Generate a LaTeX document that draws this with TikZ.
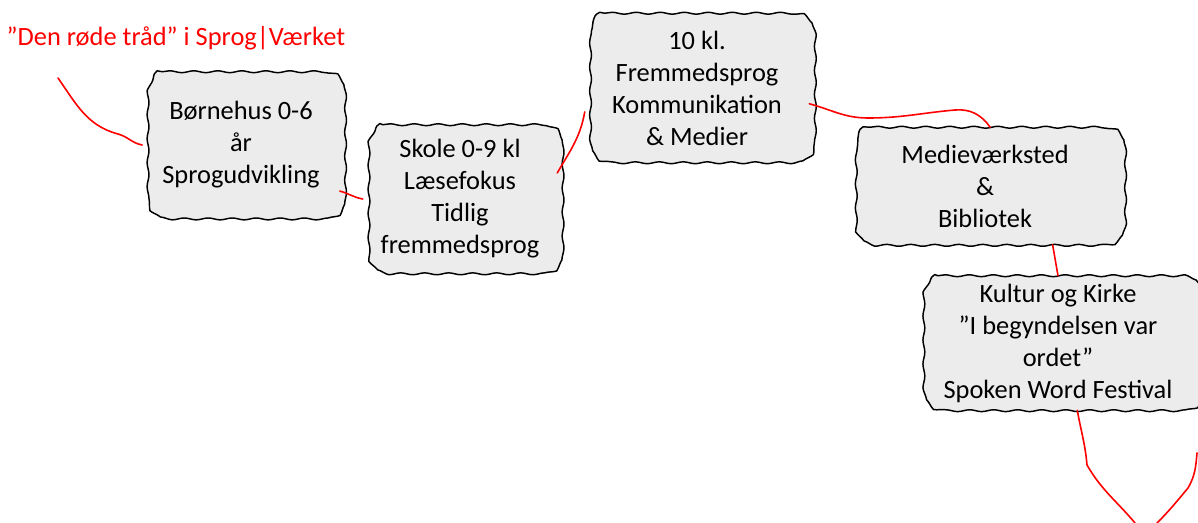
\documentclass[tikz,border=0pt]{standalone}
\usepackage{fontspec}
\setmainfont{Carlito}
\usetikzlibrary{decorations.pathmorphing, backgrounds}
\definecolor{boxgray}{RGB}{236,236,236}

\begin{document}
\begin{tikzpicture}[x=0.75pt, y=-0.75pt,
  box/.style={align=center, inner sep=0pt, font=\fontsize{19.8}{24}\selectfont},
  outline/.style={draw=black, fill=boxgray, line width=1.1pt, line join=round, decorate,
    decoration={snake, amplitude=0.7pt, segment length=18pt}},
  thread/.style={draw=red, line width=1.2pt, line join=round, line cap=round}]
  \useasboundingbox (0,0) rectangle (1198,523);

  \node[text=red, anchor=west, font=\fontsize{19.8}{24}\selectfont] (title) at (2,38) {”Den røde tråd” i Sprog|Værket};

  \node[box, minimum width=147.75pt, minimum height=109.5pt] (b1) at (241,145) {Børnehus 0-6\\år\\Sprogudvikling};
  \node[box, minimum width=145.5pt, minimum height=111pt] (b2) at (460,199) {Skole 0-9 kl\\Læsefokus\\Tidlig\\fremmedsprog};
  \node[box, minimum width=168pt, minimum height=111.75pt] (b3) at (697,88) {10 kl.\\Fremmedsprog\\Kommunikation\\\& Medier};
  \node[box, minimum width=201.75pt, minimum height=87.75pt] (b4) at (985,186) {Medieværksted\\\&\\Bibliotek};
  \node[box, minimum width=210pt, minimum height=100.5pt] (b5) at (1058,343) {Kultur og Kirke\\”I begyndelsen var\\ordet”\\Spoken Word Festival};

  \begin{scope}[on background layer]
  \foreach \n in {b1,b2,b3,b4,b5}
    \draw[outline] ([xshift=15pt]\n.north west) -- ([xshift=-15pt]\n.north east)
      .. controls ([xshift=-6pt]\n.north east) and ([yshift=-6pt]\n.north east) .. ([yshift=-15pt]\n.north east)
      -- ([yshift=15pt]\n.south east)
      .. controls ([yshift=6pt]\n.south east) and ([xshift=-6pt]\n.south east) .. ([xshift=-15pt]\n.south east)
      -- ([xshift=15pt]\n.south west)
      .. controls ([xshift=6pt]\n.south west) and ([yshift=6pt]\n.south west) .. ([yshift=15pt]\n.south west)
      -- ([yshift=-15pt]\n.north west)
      .. controls ([yshift=-6pt]\n.north west) and ([xshift=6pt]\n.north west) .. ([xshift=15pt]\n.north west) -- cycle;
  \end{scope}

  \coordinate (start) at (58,78);
  \coordinate (tail1) at (1135,523);
  \coordinate (tail2) at (1197,453);
  \coordinate (tail3) at (1157,523);

  \draw[thread] (start) to[out=-55, in=165] (118,134) to[out=-15, in=170] (b1.west);
  \path[thread]
  (b1.-25) edge[out=-15, in=170] (b2.west)
  (b2.15) edge[out=60, in=-100] (b3.192)
  (b4.-41) edge[out=-80, in=100] (b5.north);
  \draw[thread] (b3.-8) to[out=-15, in=180] (868,118) to[out=0, in=185] (955,110) to[out=5, in=125] (b4.85);
  \draw[thread] (b5.-74) to[out=-80, in=95] (1087,465) to[out=-60, in=130] (tail1);
  \draw[thread] (tail2) to[out=-95, in=60] (1188,488) to[out=-130, in=45] (tail3);
\end{tikzpicture}
\end{document}
